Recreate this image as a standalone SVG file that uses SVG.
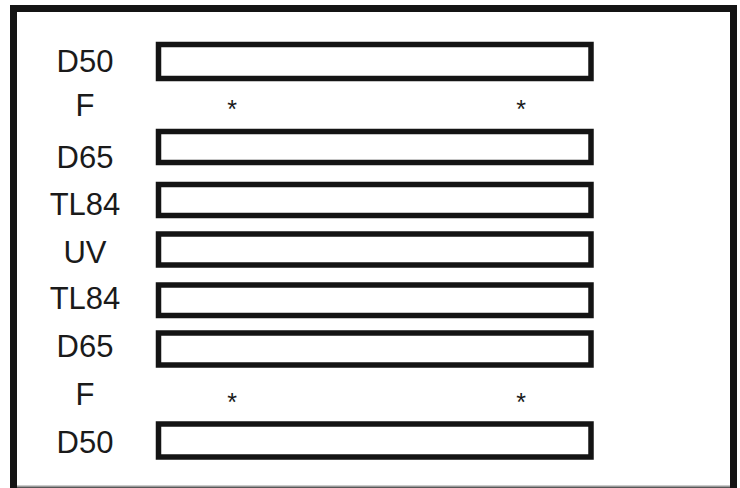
<svg xmlns="http://www.w3.org/2000/svg" width="740" height="488" viewBox="0 0 740 488">
<style>
.frame{fill:none;stroke:#141414;stroke-width:7}
.bar{fill:#fff;stroke:#141414;stroke-width:5.5}
.lbl{font-family:"Liberation Sans",Arial,sans-serif;font-size:31px;fill:#1a1a1a;text-anchor:middle}
.ast{font-family:"Liberation Sans",Arial,sans-serif;font-size:25px;fill:#1a1a1a;text-anchor:middle}
</style>
<rect width="740" height="488" fill="#fff"/>
<rect class="frame" x="13.5" y="8.5" width="720" height="482"/>
<line x1="17" y1="486.5" x2="730" y2="486.5" stroke="#9a9a9a" stroke-width="2"/>
<g id="row-d50-top"><text class="lbl" x="85" y="72">D50</text><rect class="bar" x="158.5" y="44.5" width="432.5" height="34"/></g>
<g id="row-f-top"><text class="lbl" x="85" y="116">F</text><text class="ast" x="232" y="118">*</text><text class="ast" x="521" y="118">*</text></g>
<g id="row-d65-top"><text class="lbl" x="85" y="168">D65</text><rect class="bar" x="158.5" y="131.5" width="432.5" height="31"/></g>
<g id="row-tl84-top"><text class="lbl" x="85" y="215">TL84</text><rect class="bar" x="158.5" y="184.5" width="432.5" height="31"/></g>
<g id="row-uv"><text class="lbl" x="85" y="263">UV</text><rect class="bar" x="158.5" y="234" width="432.5" height="31"/></g>
<g id="row-tl84-bot"><text class="lbl" x="85" y="309">TL84</text><rect class="bar" x="158.5" y="285" width="432.5" height="30.5"/></g>
<g id="row-d65-bot"><text class="lbl" x="85" y="357">D65</text><rect class="bar" x="158.5" y="333" width="432.5" height="32"/></g>
<g id="row-f-bot"><text class="lbl" x="85" y="405">F</text><text class="ast" x="232" y="411">*</text><text class="ast" x="521" y="411">*</text></g>
<g id="row-d50-bot"><text class="lbl" x="85" y="453">D50</text><rect class="bar" x="158.5" y="424" width="432.5" height="33"/></g>
</svg>
